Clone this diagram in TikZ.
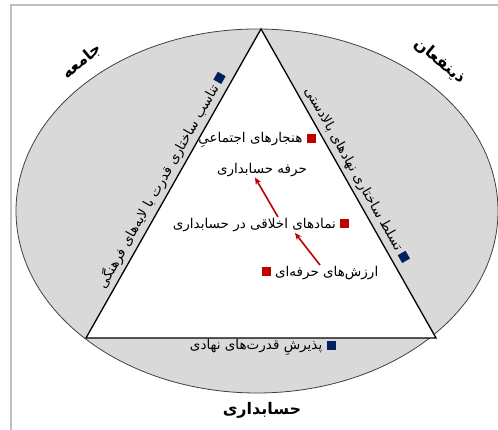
\documentclass[tikz,border=0pt]{standalone}
\usepackage{fontspec}
\setmainfont{DejaVu Sans}
\newfontfamily\fa[Script=Arabic]{DejaVu Sans}
\TeXXeTstate=1
\usepackage{xcolor}
\definecolor{fillgrey}{RGB}{217,217,217}
\definecolor{framegrey}{RGB}{191,191,191}
\definecolor{sqnavy}{RGB}{0,32,96}
\definecolor{sqred}{RGB}{192,0,0}
\usepackage{tikz}
\usetikzlibrary{arrows.meta,positioning}
\newcommand{\navysq}{\textcolor{sqnavy}{\rule{9pt}{9pt}}}
\newcommand{\redsq}{\textcolor{sqred}{\rule{9pt}{9pt}}}
\tikzset{
  sidelbl/.style={font=\fa\fontsize{13.5}{15}\selectfont, inner sep=1.5pt},
  innerlbl/.style={font=\fa\fontsize{13.5}{15}\selectfont, inner sep=1pt},
  biglbl/.style={font=\fa\bfseries\fontsize{16}{18}\selectfont},
  redarr/.style={-{Stealth[length=7pt,width=6pt]}, line width=1.6pt, sqred}
}

\begin{document}
\begin{tikzpicture}[x=1pt,y=1pt]
  \useasboundingbox (0,0) rectangle (498,430);
  % frame and background shapes
  \draw[framegrey, line width=1.5pt] (11,0) -- (11,425) -- (498,425);
  \draw[fill=fillgrey, draw=black!75, line width=0.8pt] (257,219) ellipse [x radius=241, y radius=182];
  \coordinate (apex) at (261,401);
  \coordinate (lft) at (86,92);
  \coordinate (rgt) at (436,92);
  \draw[fill=white, line width=1.3pt] (apex) -- (lft) -- (rgt) -- cycle;

  % outer labels
  \node[biglbl, rotate=40] (soc) at (82,369) {\beginR جامعه\endR};
  \node[biglbl, rotate=-40] (stk) at (440,369) {\beginR ذینفعان\endR};
  \node[biglbl] (acc) at (262,20) {\beginR حسابداری\endR};

  % labels along the triangle
  \path (lft) -- (apex) node[sidelbl, sloped, above=2.5pt, pos=0.49] (fit) {\beginR تناسب ساختاری قدرت با لایه‌های فرهنگی\endR\ \navysq};
  \path (apex) -- (rgt) node[sidelbl, sloped, above=2.5pt, pos=0.49] (dom) {\beginR تسلط ساختاری نهادهای بالادستی\endR\ \navysq};
  \path (lft) -- (rgt) node[sidelbl, below, pos=0.505] (acp) {\beginR پذیرشِ قدرت‌های نهادی\endR\ \navysq};

  % inner chain
  \node[innerlbl] (norms) at (257,290) {\beginR هنجارهای اجتماعیِ\endR\ \redsq};
  \node[innerlbl, below=13pt of norms, xshift=5pt] (norms2) {\beginR حرفه حسابداری\endR};
  \node[innerlbl] (sym) at (261,205) {\beginR نمادهای اخلاقی در حسابداری\endR\ \redsq};
  \node[innerlbl] (val) at (320,157) {\redsq\ \beginR ارزش‌های حرفه‌ای\endR};
  \draw[redarr] (val.north) -- ([xshift=34pt]sym.south);
  \draw[redarr] ([xshift=17pt]sym.north) -- ([xshift=-7pt]norms2.south);
\end{tikzpicture}
\end{document}
